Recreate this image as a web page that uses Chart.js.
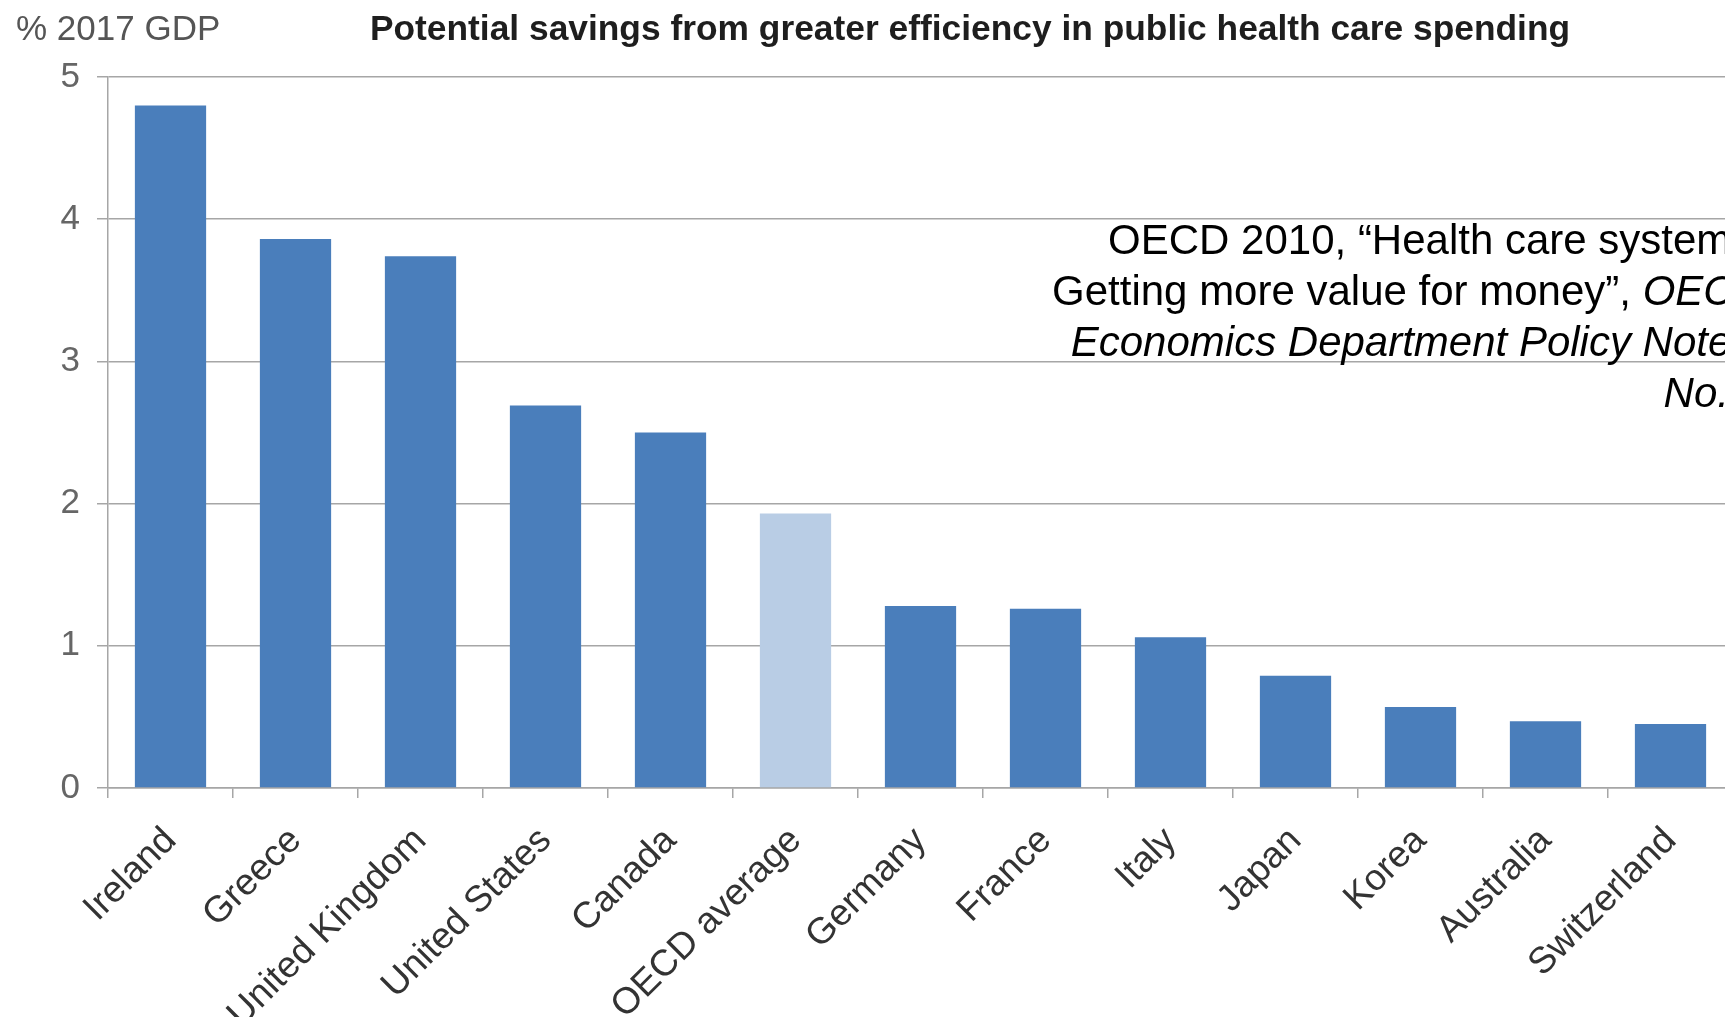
<!DOCTYPE html>
<html>
<head>
<meta charset="utf-8">
<script src="https://cdn.jsdelivr.net/npm/chart.js@4.4.1/dist/chart.umd.min.js"></script>
<style>
  html, body { margin: 0; padding: 0; overflow: hidden; background: #fff; width: 1725px; height: 1017px; }
  #wrap { position: absolute; left: 0; top: 0; width: 1745px; height: 1017px; }
  .txt { position: absolute; font-family: 'Liberation Sans', Arial, sans-serif; white-space: nowrap; }
  #unit { left: 16px; top: 8px; font-size: 35px; color: #555; }
  #title { left: 970px; top: 8px; font-size: 35px; font-weight: bold; color: #1e1e1e;
           transform: translateX(-50%) scaleX(1.01); }
  #note { right: -19px; top: 214px; font-size: 42px; line-height: 51px; text-align: right; color: #000; }
</style>
</head>
<body>
<div id="wrap">
  <canvas id="chart" width="1745" height="1017"></canvas>
  <div class="txt" id="unit">% 2017 GDP</div>
  <div class="txt" id="title">Potential savings from greater efficiency in public health care spending</div>
  <div class="txt" id="note">OECD 2010, “Health care systems:<br>Getting more value for money”, <i>OECD</i><br><i>Economics Department Policy Notes,</i><br><i>No. 2</i></div>
</div>
<script>
const categories = ['Ireland', 'Greece', 'United Kingdom', 'United States', 'Canada', 'OECD average',
                    'Germany', 'France', 'Italy', 'Japan', 'Korea', 'Australia', 'Switzerland'];
const savings = [4.80, 3.86, 3.74, 2.69, 2.50, 1.93, 1.28, 1.26, 1.06, 0.79, 0.57, 0.47, 0.45];
const yTicks = [0, 1, 2, 3, 4, 5];
const highlight = 'OECD average';

const barColor = '#4a7ebb';
const avgColor = '#b9cde5';
const gridColor = '#a6a6a6';

const ctx = document.getElementById('chart').getContext('2d');
new Chart(ctx, {
    type: 'bar',
    data: {
        labels: categories,
        datasets: [{
            data: savings,
            backgroundColor: categories.map(c => c === highlight ? avgColor : barColor),
            borderWidth: 0,
            categoryPercentage: 1,
            barPercentage: 0.57
        }]
    },
    options: {
        responsive: false,
        animation: false,
        devicePixelRatio: 1,
        layout: { padding: { top: 77, right: 12, left: 0, bottom: 0 } },
        plugins: {
            legend: { display: false },
            tooltip: { enabled: false }
        },
        scales: {
            x: {
                offset: true,
                grid: {
                    offset: true,
                    drawOnChartArea: false,
                    drawTicks: true,
                    tickLength: 10,
                    color: gridColor,
                    lineWidth: 1.5
                },
                border: { color: gridColor, width: 1.5 },
                ticks: {
                    autoSkip: false,
                    minRotation: 45,
                    maxRotation: 45,
                    padding: 21,
                    color: '#333',
                    font: { family: "'Liberation Sans', Arial, sans-serif", size: 37 }
                },
                afterFit: scale => { scale.height = 229; }
            },
            y: {
                min: 0,
                max: 5,
                afterBuildTicks: scale => { scale.ticks = yTicks.map(v => ({ value: v })); },
                grid: {
                    color: gridColor,
                    lineWidth: 1.5,
                    drawTicks: true,
                    tickLength: 11
                },
                border: { color: gridColor, width: 1.5 },
                ticks: {
                    padding: 17,
                    color: '#666',
                    font: { family: "'Liberation Sans', Arial, sans-serif", size: 35 }
                },
                afterFit: scale => { scale.width = 108; }
            }
        }
    }
});
</script>
</body>
</html>
